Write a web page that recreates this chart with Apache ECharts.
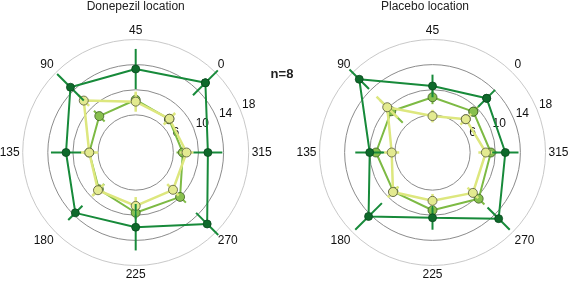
<!DOCTYPE html>
<html>
<head>
<meta charset="utf-8">
<style>
  html, body { margin: 0; padding: 0; background: #ffffff; }
  #chart { width: 568px; height: 286px; }
</style>
<script src="https://cdn.jsdelivr.net/npm/echarts@6/dist/echarts.min.js"></script>
</head>
<body>
<div id="chart"></div>
<script>
// Directions (counter-clockwise, starting at upper-right)
const directions = ['0', '45', '90', '135', '180', '225', '270', '315'];
const radiusTicks = [6, 10, 14, 18];
const panelTitles = ['Donepezil location', 'Placebo location'];
const nLabel = 'n=8';

// Donepezil location panel
const donDark = [15.7, 13.3, 14.7, 11.1, 13.6, 11.9, 16.1, 11.5];
const donDarkErr = [2.8, 3.2, 3.0, 2.4, 1.6, 3.7, 2.5, 2.3];
const donMid = [7.5, 8.4, 8.2, 7.4, 8.3, 9.6, 10.0, 7.5];
const donMidErr = [1.0, 1.0, 1.2, 1.0, 1.2, 1.0, 1.3, 1.0];
const donLight = [7.6, 8.1, 11.7, 7.4, 8.5, 8.5, 8.4, 8.1];
const donLightErr = [1.3, 1.6, 1.2, 1.4, 1.3, 1.4, 1.3, 1.1];

// Placebo location panel
const plaDark = [12.2, 10.6, 16.5, 10.0, 14.4, 10.4, 14.9, 11.6];
const plaDarkErr = [1.9, 1.8, 2.2, 2.3, 3.0, 1.9, 2.5, 2.1];
const plaMid = [9.2, 8.8, 9.3, 9.0, 8.8, 9.2, 10.4, 9.3];
const plaMidErr = [1.1, 1.1, 2.6, 1.1, 1.1, 1.1, 1.3, 1.0];
const plaLight = [7.5, 5.8, 10.2, 6.5, 8.9, 7.7, 9.1, 8.5];
const plaLightErr = [1.2, 1.0, 2.4, 1.2, 1.2, 1.1, 1.2, 1.2];

const FONT = 'Liberation Sans, Arial, sans-serif';
const styles = {
  dark:  { line: '#178a3a', fill: '#0e6a2b', border: '#0a4a1e', size: 8, width: 2 },
  mid:   { line: '#7dba44', fill: '#88c04e', border: '#3e5e22', size: 9, width: 2 },
  light: { line: '#dde77e', fill: '#e3ea90', border: '#55583a', size: 9, width: 2.5 }
};

const panels = [
  { center: [135.7, 152.5], sets: [['mid', donMid, donMidErr], ['light', donLight, donLightErr], ['dark', donDark, donDarkErr]] },
  { center: [432.5, 152.5], sets: [['mid', plaMid, plaMidErr], ['light', plaLight, plaLightErr], ['dark', plaDark, plaDarkErr]] }
];

const polar = [], angleAxis = [], radiusAxis = [], series = [];
panels.forEach((p, pi) => {
  polar.push({ center: p.center, radius: 113 });
  angleAxis.push({
    polarIndex: pi, type: 'category', data: directions, boundaryGap: true,
    startAngle: 22.5, clockwise: false,
    axisLine: { show: true, lineStyle: { color: '#c9c9c9', width: 1 } },
    axisTick: { show: false }, splitLine: { show: false },
    axisLabel: { margin: 3, fontSize: 12, color: '#111', fontFamily: FONT }
  });
  const ringColors = [];
  for (let v = 0; v <= 18; v += 2) ringColors.push(radiusTicks.includes(v) && v !== 18 ? '#8c8c8c' : 'rgba(0,0,0,0)');
  radiusAxis.push({
    polarIndex: pi, type: 'value', min: 0, max: 18, interval: 2,
    axisLine: { show: false }, axisTick: { show: false },
    splitLine: { show: true, lineStyle: { color: ringColors, width: 1 } },
    axisLabel: {
      show: true, fontSize: 12, color: '#111', fontFamily: FONT, margin: 0,
      align: 'left', verticalAlign: 'bottom', lineHeight: 10, padding: [0, 0, 0, 2],
      formatter: v => radiusTicks.includes(v) ? String(v) : ''
    }
  });
  p.sets.forEach((set, si) => {
    const [key, vals, errs] = set;
    const st = styles[key];
    const z = 2 + si * 2;
    series.push({
      type: 'custom', coordinateSystem: 'polar', polarIndex: pi, z: z,
      silent: true,
      data: vals.map((v, i) => [v, i, errs[i]]),
      encode: { radius: 0, angle: 1 },
      renderItem: (params, api) => {
        const r = api.value(0), a = api.value(1), e = api.value(2);
        const p1 = api.coord([r - e, a]);
        const p2 = api.coord([r + e, a]);
        return { type: 'line', shape: { x1: p1[0], y1: p1[1], x2: p2[0], y2: p2[1] },
                 style: { stroke: st.line, lineWidth: st.width } };
      }
    });
    const pts = vals.map((v, i) => [v, i]);
    pts.push([vals[0], 0]);
    series.push({
      type: 'line', coordinateSystem: 'polar', polarIndex: pi, z: z + 1,
      data: pts, symbol: 'circle', symbolSize: st.size, showSymbol: true,
      lineStyle: { color: st.line, width: st.width },
      itemStyle: { color: st.fill, borderColor: st.border, borderWidth: 0.8 },
      animation: false, silent: true
    });
  });
});

const chart = echarts.init(document.getElementById('chart'), null, { renderer: 'canvas' });
chart.setOption({
  backgroundColor: '#ffffff',
  animation: false,
  title: [
    { text: panelTitles[0], left: 135.7, top: 1, padding: 0, textAlign: 'center',
      textStyle: { fontSize: 12, fontWeight: 'normal', color: '#222', fontFamily: FONT } },
    { text: panelTitles[1], left: 425, top: 1, padding: 0, textAlign: 'center',
      textStyle: { fontSize: 12, fontWeight: 'normal', color: '#222', fontFamily: FONT } },
    { text: nLabel, left: 282, top: 68, padding: 0, textAlign: 'center',
      textStyle: { fontSize: 13, fontWeight: 'bold', color: '#222', fontFamily: FONT } }
  ],
  polar: polar, angleAxis: angleAxis, radiusAxis: radiusAxis, series: series
});
</script>
</body>
</html>
